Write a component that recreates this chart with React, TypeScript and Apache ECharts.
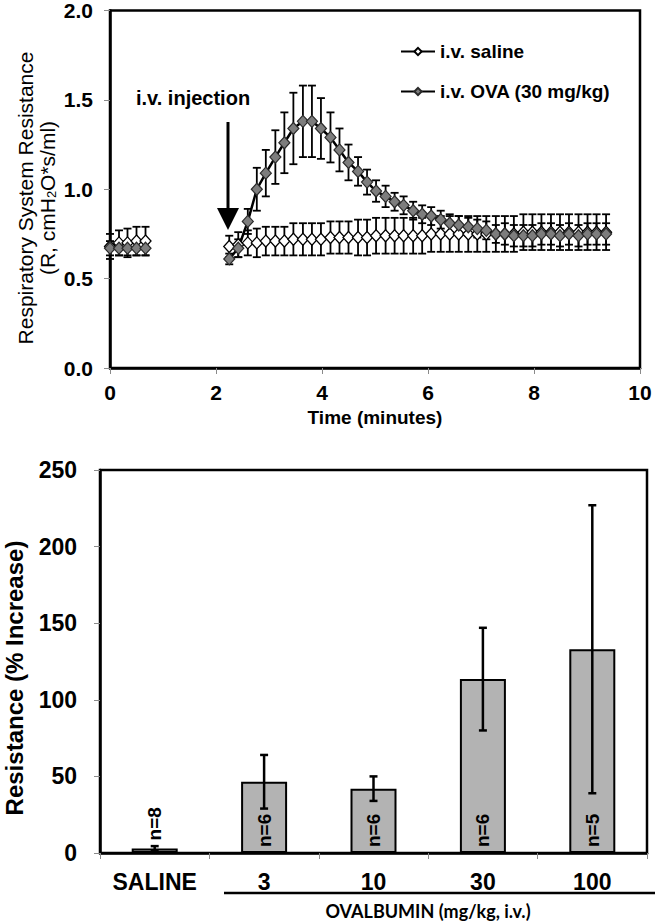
import React, { useEffect, useRef } from 'react';
import * as echarts from 'echarts';

// ---------- Top panel: time course ----------
const preTimes = [0, 0.17, 0.33, 0.5, 0.67];
const salinePre = [0.68, 0.7, 0.7, 0.71, 0.71];
const salinePreErr = [0.07, 0.07, 0.08, 0.08, 0.08];
const ovaPre = [0.67, 0.67, 0.67, 0.67, 0.67];
const ovaPreErr = [0.04, 0.04, 0.04, 0.04, 0.04];

const postTimes = [
  2.25, 2.42, 2.6, 2.77, 2.94, 3.12, 3.29, 3.46, 3.64, 3.81, 3.98, 4.16, 4.33, 4.5,
  4.68, 4.85, 5.02, 5.2, 5.37, 5.54, 5.72, 5.89, 6.06, 6.24, 6.41, 6.58, 6.76, 6.93,
  7.1, 7.28, 7.45, 7.62, 7.8, 7.97, 8.14, 8.32, 8.49, 8.66, 8.84, 9.01, 9.18, 9.36,
];
const salinePost = [
  0.68, 0.69, 0.7, 0.7, 0.71, 0.71, 0.71, 0.72, 0.72, 0.72, 0.72, 0.73, 0.73, 0.73,
  0.73, 0.73, 0.74, 0.74, 0.74, 0.74, 0.74, 0.74, 0.75, 0.75, 0.75, 0.75, 0.75, 0.75,
  0.75, 0.75, 0.75, 0.75, 0.76, 0.76, 0.76, 0.76, 0.76, 0.76, 0.76, 0.76, 0.76, 0.76,
];
const salinePostErr = [
  0.06, 0.07, 0.07, 0.08, 0.08, 0.08, 0.08, 0.09, 0.09, 0.09, 0.09, 0.09, 0.09, 0.09,
  0.1, 0.1, 0.1, 0.1, 0.1, 0.1, 0.1, 0.1, 0.1, 0.1, 0.1, 0.1, 0.1, 0.1,
  0.1, 0.1, 0.1, 0.1, 0.1, 0.1, 0.1, 0.1, 0.1, 0.1, 0.1, 0.1, 0.1, 0.1,
];
const ovaPost = [
  0.61, 0.67, 0.82, 1.0, 1.09, 1.18, 1.26, 1.34, 1.38, 1.38, 1.34, 1.29, 1.22, 1.15,
  1.1, 1.04, 0.99, 0.96, 0.93, 0.91, 0.88, 0.86, 0.85, 0.83, 0.81, 0.8, 0.79, 0.78,
  0.77, 0.75, 0.75, 0.74, 0.74, 0.74, 0.75, 0.75, 0.74, 0.75, 0.74, 0.75, 0.75, 0.75,
];
const ovaPostErr = [
  0.03, 0.05, 0.07, 0.12, 0.13, 0.15, 0.17, 0.2, 0.2, 0.2, 0.17, 0.14, 0.12, 0.1,
  0.08, 0.07, 0.06, 0.06, 0.05, 0.05, 0.05, 0.05, 0.05, 0.05, 0.05, 0.05, 0.05, 0.05,
  0.05, 0.05, 0.06, 0.06, 0.06, 0.06, 0.06, 0.06, 0.06, 0.06, 0.06, 0.06, 0.06, 0.06,
];

// ---------- Bottom panel: dose response ----------
const doseCategories = ['SALINE', '3', '10', '30', '100'];
const increaseMeans = [3, 46.5, 42, 113.5, 133];
const increaseErr = [1.5, 17.5, 8, 33.5, 94];
const groupN = ['n=8', 'n=6', 'n=6', 'n=6', 'n=5'];

const FONT = 'Arial, "Liberation Sans", Helvetica, sans-serif';

const pairs = (xs: number[], ys: number[]) => xs.map((x, i) => [x, ys[i]]);
const errData = (xs: number[], ys: number[], es: number[]) =>
  xs.map((x, i) => [x, ys[i] - es[i], ys[i] + es[i]]);

const makeErrRender = (half: number, width: number) => (params: any, api: any) => {
  const x = api.value(0);
  const lo = api.coord([x, api.value(1)]);
  const hi = api.coord([x, api.value(2)]);
  const style = { stroke: '#000', lineWidth: width };
  return {
    type: 'group',
    children: [
      { type: 'line', shape: { x1: hi[0], y1: hi[1], x2: lo[0], y2: lo[1] }, style },
      { type: 'line', shape: { x1: hi[0] - half, y1: hi[1], x2: hi[0] + half, y2: hi[1] }, style },
      { type: 'line', shape: { x1: lo[0] - half, y1: lo[1], x2: lo[0] + half, y2: lo[1] }, style },
    ],
  };
};

const errSeries = (data: any[], xi: number, half: number, width: number, z = 2) => ({
  type: 'custom',
  xAxisIndex: xi,
  yAxisIndex: xi,
  renderItem: makeErrRender(half, width),
  encode: { x: 0, y: [1, 2] },
  data,
  z,
  silent: true,
});

const SALINE = 'i.v. saline';
const OVA = 'i.v. OVA (30 mg/kg)';

const salineStyle = {
  symbol: 'diamond',
  symbolSize: [11, 12],
  itemStyle: { color: '#ffffff', borderColor: '#000', borderWidth: 1.3 },
  lineStyle: { color: '#000', width: 2.5 },
};
const ovaStyle = {
  symbol: 'diamond',
  symbolSize: [11, 12],
  itemStyle: { color: '#7d7d7d', borderColor: '#2a2a2a', borderWidth: 1.2 },
  lineStyle: { color: '#000', width: 2.5 },
};

export default function App() {
  const ref = useRef<HTMLDivElement>(null);
  useEffect(() => {
    if (!ref.current) return;
    const chart = echarts.init(ref.current, undefined, { renderer: 'svg' });
    const axisLabelTop = { color: '#000', fontFamily: FONT, fontWeight: 'bold', fontSize: 21 };
    const axisLabelBot = { color: '#000', fontFamily: FONT, fontWeight: 'bold', fontSize: 23 };
    const tick = { show: true, length: 6, lineStyle: { color: '#8a8a8a', width: 1 } };
    const axLine = { show: true, lineStyle: { color: '#000', width: 2.5 } };

    chart.setOption({
      animation: false,
      backgroundColor: '#fff',
      grid: [
        { left: 110, top: 10, width: 530, height: 358, show: true, borderColor: '#000', borderWidth: 2.5, backgroundColor: 'transparent' },
        { left: 100, top: 470, width: 547, height: 383, show: true, borderColor: '#000', borderWidth: 2.5, backgroundColor: 'transparent' },
      ],
      legend: {
        data: [SALINE, OVA],
        orient: 'vertical',
        left: 395,
        top: 37,
        itemWidth: 34,
        itemHeight: 9,
        itemGap: 21,
        selectedMode: false,
        textStyle: { color: '#000', fontFamily: FONT, fontWeight: 'bold', fontSize: 19 },
      },
      xAxis: [
        {
          type: 'value', gridIndex: 0, min: 0, max: 10, interval: 2,
          axisLine: axLine, axisTick: tick, splitLine: { show: false },
          axisLabel: { ...axisLabelTop, margin: 14 },
          name: 'Time (minutes)', nameLocation: 'middle', nameGap: 40,
          nameTextStyle: { color: '#000', fontFamily: FONT, fontWeight: 'bold', fontSize: 19 },
        },
        {
          type: 'category', gridIndex: 1, data: doseCategories,
          axisLine: axLine, axisTick: { ...tick, alignWithLabel: false }, splitLine: { show: false },
          axisLabel: { ...axisLabelBot, margin: 17, interval: 0 },
        },
      ],
      yAxis: [
        {
          type: 'value', gridIndex: 0, min: 0, max: 2, interval: 0.5,
          axisLine: axLine, axisTick: tick, splitLine: { show: false },
          axisLabel: { ...axisLabelTop, margin: 17, formatter: (v: number) => v.toFixed(1) },
        },
        {
          type: 'value', gridIndex: 1, min: 0, max: 250, interval: 50,
          axisLine: axLine, axisTick: tick, splitLine: { show: false },
          axisLabel: { ...axisLabelBot, margin: 23 },
        },
      ],
      series: [
        errSeries(errData(preTimes, salinePre, salinePreErr), 0, 4, 1.8),
        errSeries(errData(postTimes, salinePost, salinePostErr), 0, 4, 1.8),
        { type: 'line', name: SALINE, xAxisIndex: 0, yAxisIndex: 0, data: pairs(preTimes, salinePre), ...salineStyle },
        { type: 'line', name: SALINE, xAxisIndex: 0, yAxisIndex: 0, data: pairs(postTimes, salinePost), ...salineStyle },
        errSeries(errData(preTimes, ovaPre, ovaPreErr), 0, 4, 1.8),
        errSeries(errData(postTimes, ovaPost, ovaPostErr), 0, 4, 1.8),
        { type: 'line', name: OVA, xAxisIndex: 0, yAxisIndex: 0, data: pairs(preTimes, ovaPre), ...ovaStyle },
        { type: 'line', name: OVA, xAxisIndex: 0, yAxisIndex: 0, data: pairs(postTimes, ovaPost), ...ovaStyle },
        {
          type: 'bar',
          xAxisIndex: 1,
          yAxisIndex: 1,
          barWidth: 46,
          z: 2,
          itemStyle: { color: '#b3b3b3', borderColor: '#000', borderWidth: 2 },
          data: increaseMeans.map((v, i) => ({
            value: v,
            label: {
              show: true,
              formatter: groupN[i],
              rotate: 90,
              position: i === 0 ? 'top' : 'insideBottom',
              distance: i === 0 ? 8 : 6,
              align: 'left',
              verticalAlign: 'middle',
              color: '#000',
              fontFamily: FONT,
              fontWeight: 'bold',
              fontSize: 19,
            },
          })),
        },
        errSeries(increaseMeans.map((m, i) => [i, m - increaseErr[i], m + increaseErr[i]]), 1, 4, 2.5, 5),
      ],
      graphic: [
        {
          type: 'text', x: 136, y: 98,
          style: { text: 'i.v. injection', fill: '#000', font: `bold 20px ${FONT}`, verticalAlign: 'middle', align: 'left' },
        },
        { type: 'line', shape: { x1: 228, y1: 122, x2: 228, y2: 212 }, style: { stroke: '#000', lineWidth: 3 } },
        { type: 'polygon', shape: { points: [[217, 208], [239, 208], [228, 230]] }, style: { fill: '#000' } },
        {
          type: 'text', x: 36, y: 198, rotation: Math.PI / 2,
          style: {
            text: 'Respiratory System Resistance\n(R, cmH{sub|2}O*s/ml)',
            fill: '#000',
            fontFamily: FONT,
            fontSize: 21,
            lineHeight: 22,
            align: 'center',
            verticalAlign: 'middle',
            rich: {
              sub: { fontFamily: FONT, fontSize: 13, fill: '#000', verticalAlign: 'bottom', lineHeight: 22 },
            },
          },
        },
        {
          type: 'text', x: 14, y: 678, rotation: Math.PI / 2,
          style: {
            text: 'Resistance (% Increase)', fill: '#000', font: `bold 24px ${FONT}`,
            align: 'center', verticalAlign: 'middle',
          },
        },
        { type: 'line', shape: { x1: 224, y1: 893, x2: 655, y2: 893 }, style: { stroke: '#000', lineWidth: 2.5 } },
        {
          type: 'text', x: 428, y: 911,
          style: {
            text: 'OVALBUMIN (mg/kg, i.v.)', fill: '#000', font: `bold 18px Lato, ${FONT}`,
            align: 'center', verticalAlign: 'middle',
          },
        },
      ],
    });
    return () => chart.dispose();
  }, []);
  return <div ref={ref} style={{ position: 'fixed', left: 0, top: 0, width: 657, height: 923, background: '#fff' }} />;
}
